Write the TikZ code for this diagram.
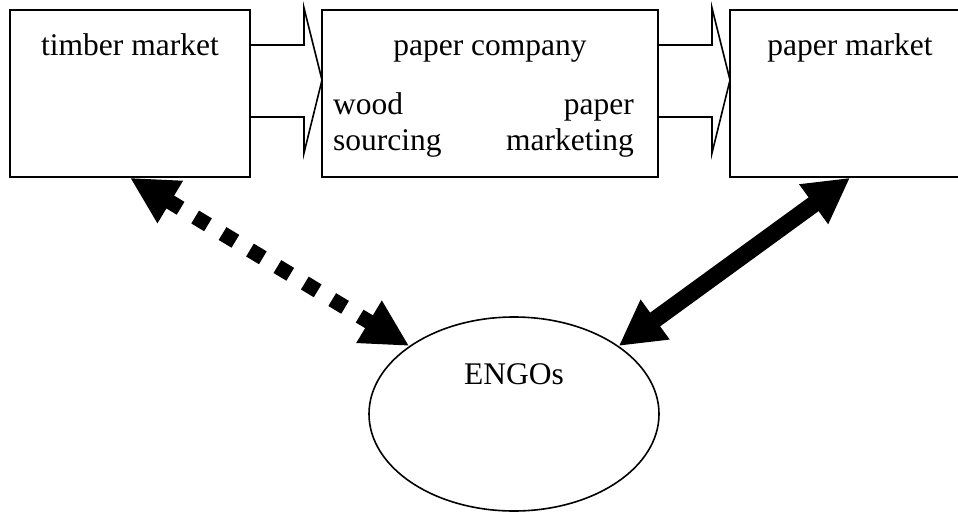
\documentclass[tikz,border=0pt]{standalone}
\usepackage{fontspec}
\setmainfont{Liberation Serif}
\usetikzlibrary{shapes.geometric,arrows.meta}

\begin{document}
\begin{tikzpicture}[x=1pt,y=-1pt,
    frame/.style={draw=black,line width=1.6pt,inner sep=0pt,fill=white},
    lbl/.style={inner sep=0pt,font=\fontsize{31.5}{36}\selectfont},
    blockarrow/.style={draw=black,line width=1.6pt,line join=miter},
    dotlink/.style={line width=15pt,dash pattern=on 15pt off 17pt,
      {Triangle[length=47pt,width=46pt]}-{Triangle[length=47pt,width=46pt]}},
    solidlink/.style={line width=17pt,
      {Triangle[length=45pt,width=46pt]}-{Triangle[length=45pt,width=46pt]}}]
  \useasboundingbox (0,0) rectangle (958,513);

  % block arrows between the boxes
  \draw[blockarrow] (250,45) -- (304,45) -- (304,8) -- (322,80) -- (304,153) -- (304,117) -- (250,117);
  \draw[blockarrow] (658,45) -- (712,45) -- (712,8) -- (730,80) -- (712,153) -- (712,117) -- (658,117);

  % the three boxes
  \node[frame,minimum width=240pt,minimum height=167pt] (timber) at (130,93.5) {};
  \node[frame,minimum width=336pt,minimum height=167pt] (company) at (490,93.5) {};
  \node[frame,minimum width=240pt,minimum height=167pt] (pmarket) at (850,93.5) {};

  % ENGO ellipse
  \node[ellipse,draw=black,line width=1.6pt,inner sep=0pt,
        minimum width=290pt,minimum height=194pt] (engos) at (514,414) {};

  % texts
  \node[lbl,anchor=base] (ttimber) at (130,56) {timber market};
  \node[lbl,anchor=base] (tcompany) at (490,56) {paper company};
  \node[lbl,anchor=base] (tpmarket) at (850,56) {paper market};
  \node[lbl,anchor=base west] (twood) at (333,115) {wood};
  \node[lbl,anchor=base west] (tsourcing) at (333,151) {sourcing};
  \node[lbl,anchor=base east] (tpaper) at (634,115) {paper};
  \node[lbl,anchor=base east] (tmarketing) at (634,151) {marketing};
  \node[lbl,anchor=base] (tengos) at (514,384) {ENGOs};

  % links to the ENGOs
  \draw[dotlink] (timber.south) -- (engos.147);
  \draw[solidlink] (pmarket.south) -- (engos.33);
\end{tikzpicture}
\end{document}
